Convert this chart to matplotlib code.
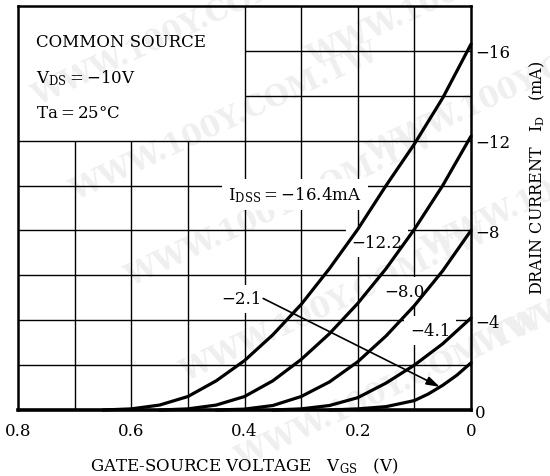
"""
JFET transfer characteristics: I_D vs V_GS (common source)
"""
import matplotlib.pyplot as plt

plt.rcParams['font.family'] = 'DejaVu Serif'
plt.rcParams['mathtext.fontset'] = 'dejavuserif'

# values: V_GS in volts, I_D in mA, one curve per I_DSS
vgs_164 = [0.0, 0.05, 0.1, 0.15, 0.2, 0.25, 0.3, 0.35, 0.4, 0.45, 0.5, 0.55, 0.6, 0.65]
id_164 = [-16.3, -13.9, -11.85, -10.0, -8.05, -6.3, -4.7, -3.35, -2.2, -1.3, -0.6, -0.22, -0.05, 0.0]

vgs_122 = [0.0, 0.05, 0.1, 0.15, 0.2, 0.25, 0.3, 0.35, 0.4, 0.45, 0.5, 0.55]
id_122 = [-12.2, -10.0, -8.05, -6.3, -4.75, -3.4, -2.25, -1.3, -0.6, -0.22, -0.05, 0.0]

vgs_80 = [0.0, 0.05, 0.1, 0.15, 0.2, 0.25, 0.3, 0.35, 0.4, 0.45]
id_80 = [-8.0, -6.2, -4.65, -3.3, -2.15, -1.25, -0.6, -0.2, -0.04, 0.0]

vgs_41 = [0.0, 0.05, 0.1, 0.15, 0.2, 0.25, 0.3, 0.35]
id_41 = [-4.1, -2.95, -2.0, -1.2, -0.55, -0.2, -0.05, 0.0]

vgs_21 = [0.0, 0.025, 0.05, 0.075, 0.1, 0.15, 0.2, 0.25]
id_21 = [-2.1, -1.55, -1.1, -0.72, -0.42, -0.15, -0.05, 0.0]

curves = [(vgs_164, id_164), (vgs_122, id_122), (vgs_80, id_80), (vgs_41, id_41), (vgs_21, id_21)]

xticks = [0.8, 0.6, 0.4, 0.2, 0.0]
xtick_labels = ['0.8', '0.6', '0.4', '0.2', '0']
yticks = [0, -4, -8, -12, -16]

fig = plt.figure(figsize=(5.5, 4.77), dpi=100)
ax = fig.add_axes([18/550, 1-411/477, 453/550, 404/477])
ax.patch.set_alpha(0)

# faint watermark behind everything
for (wx, wy) in [(0.05, 0.78), (0.12, 0.58), (0.22, 0.40), (0.32, 0.20), (0.42, 0.02),
                 (0.55, 0.86), (0.66, 0.66), (0.76, 0.46), (0.86, 0.26)]:
    fig.text(wx, wy, 'WWW.100Y.COM.TW', fontsize=21, fontweight='bold', color='#efefef',
             rotation=25, zorder=-5, family='DejaVu Serif')

ax.set_xlim(0.8, 0)
ax.set_ylim(0, -18)

# grid, left out inside the condition box at upper left
for gx in [0.1, 0.2, 0.3, 0.4]:
    ax.vlines(gx, 0, -18, color='black', lw=1.0, zorder=1)
for gx in [0.5, 0.6, 0.7]:
    ax.vlines(gx, 0, -12, color='black', lw=1.0, zorder=1)
for gy in [-2, -4, -6, -8, -10, -12]:
    ax.hlines(gy, 0.8, 0, color='black', lw=1.0, zorder=1)
for gy in [-14, -16]:
    ax.hlines(gy, 0.4, 0, color='black', lw=1.0, zorder=1)

for v, i in curves:
    ax.plot(v, i, color='black', lw=2.3, solid_capstyle='round', zorder=4, clip_on=False)

lbl = dict(fontsize=12, ha='center', va='center', zorder=3,
           bbox=dict(boxstyle='square,pad=0.35', fc='white', ec='none'))
ax.text(0.311, -9.6, r'$\mathrm{I_{DSS}}$$=-$16.4mA', **lbl)
ax.text(0.166, -7.45, '\u221212.2', **lbl)
ax.text(0.117, -5.3, '\u22128.0', **lbl)
ax.text(0.072, -3.55, '\u22124.1', **lbl)
ax.text(0.406, -4.95, '\u22122.1', **lbl)
ax.annotate('', xy=(0.055, -1.03), xytext=(0.367, -4.97),
            arrowprops=dict(arrowstyle='-|>,head_length=0.8,head_width=0.25',
                            color='black', lw=1.2, shrinkA=0, shrinkB=0), zorder=5)

fig.text(36/550, 1-47/477, 'COMMON SOURCE', fontsize=12, va='baseline')
fig.text(36/550, 1-83/477, r'$\mathrm{V_{DS}}$$=-$10V', fontsize=12, va='baseline')
fig.text(36/550, 1-118/477, 'Ta$=$25\u00b0C', fontsize=12, va='baseline')

ax.set_xticks(xticks)
ax.set_xticklabels(xtick_labels)
ax.set_yticks(yticks)
ax.yaxis.tick_right()
ax.tick_params(axis='both', length=0, labelsize=12)
ax.tick_params(axis='x', pad=9)
ax.tick_params(axis='y', pad=3)
for s in ax.spines.values():
    s.set_linewidth(1.8)
ax.spines['bottom'].set_linewidth(2.6)

fig.text(244/550, 1-466/477, r'GATE-SOURCE VOLTAGE   $\mathrm{V_{GS}}$   (V)',
         fontsize=12, ha='center', va='center')
fig.text(537/550, 1-178/477, r'DRAIN CURRENT   $\mathrm{I_D}$   (mA)',
         fontsize=11.5, ha='center', va='center', rotation=90)

fig.savefig('out.png', dpi=100)
